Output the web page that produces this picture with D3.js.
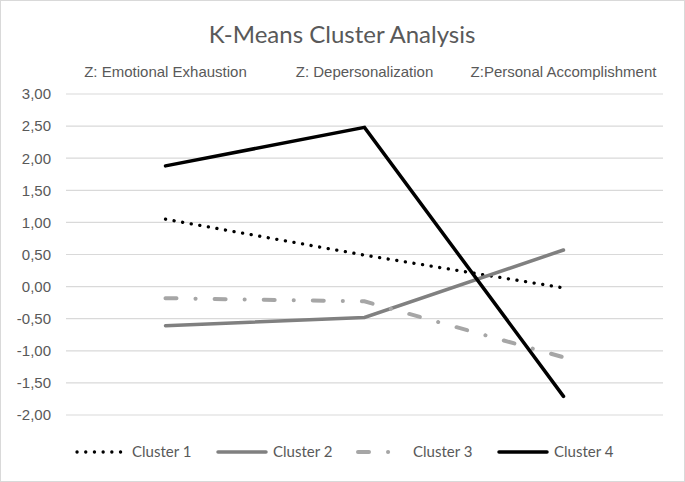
<!DOCTYPE html>
<html>
<head>
<meta charset="utf-8">
<script src="https://cdn.jsdelivr.net/npm/d3@7"></script>
<style>
  body { margin: 0; background: #fff; }
  svg { font-family: Lato, "Open Sans", sans-serif; }
</style>
</head>
<body>
<svg id="chart" width="685" height="482"></svg>
<script>
const categories = ['Z: Emotional Exhaustion', 'Z: Depersonalization', 'Z:Personal Accomplishment'];
const seriesNames = ['Cluster 1', 'Cluster 2', 'Cluster 3', 'Cluster 4'];
const cluster1 = [1.05, 0.49, -0.02];
const cluster2 = [-0.61, -0.48, 0.57];
const cluster3 = [-0.18, -0.23, -1.10];
const cluster4 = [1.88, 2.48, -1.71];
const yTicks = [3, 2.5, 2, 1.5, 1, 0.5, 0, -0.5, -1, -1.5, -2];

const W = 685, H = 482;
const margin = {left: 66, right: 22, top: 94, bottom: 67};

const svg = d3.select('#chart');

// outer border like the office chart frame
svg.append('rect')
    .attr('x', 0.5).attr('y', 0.5)
    .attr('width', W - 1).attr('height', H - 1)
    .attr('fill', '#fff').attr('stroke', '#d9d9d9');

let x = d3.scaleBand()
    .domain(categories)
    .range([margin.left, W - margin.right]);
let y = d3.scaleLinear()
    .domain([-2, 3])
    .range([H - margin.bottom, margin.top]);

// gridlines
svg.append('g')
    .selectAll('line')
    .data(yTicks)
    .enter()
    .append('line')
    .attr('x1', margin.left).attr('x2', W - margin.right)
    .attr('y1', d => y(d)).attr('y2', d => y(d))
    .attr('stroke', '#d9d9d9')
    .attr('stroke-width', 1.2);

// y axis labels, comma decimals
const fmt = d => d3.format('.2f')(d).replace('.', ',').replace('−', '-');
let yAxis = d3.axisLeft(y).tickValues(yTicks).tickFormat(fmt).tickSize(0).tickPadding(15);
let gy = svg.append('g')
    .attr('transform', `translate(${margin.left},0)`)
    .call(yAxis);
gy.select('.domain').remove();
gy.selectAll('text')
    .attr('fill', '#595959')
    .style('font-size', '15px');

// category labels on top
let xAxis = d3.axisTop(x).tickSize(0).tickPadding(0);
let gx = svg.append('g')
    .attr('transform', 'translate(0,77)')
    .call(xAxis);
gx.select('.domain').remove();
gx.selectAll('text')
    .attr('fill', '#595959')
    .style('font-size', '15px');

// title
svg.append('text')
    .attr('x', 342).attr('y', 43)
    .attr('text-anchor', 'middle')
    .attr('fill', '#595959')
    .style('font-size', '24px')
    .text('K-Means Cluster Analysis');

const styles = [
    {stroke: '#000000', width: 3.3, dash: '0.1 8.6', cap: 'round'},
    {stroke: '#808080', width: 3.5, dash: null, cap: 'round'},
    {stroke: '#a6a6a6', width: 4, dash: '11 19 0.1 19', cap: 'round'},
    {stroke: '#000000', width: 3.5, dash: null, cap: 'round'}
];
const series = [cluster1, cluster2, cluster3, cluster4].map(function(vals, i) {
    return {name: seriesNames[i], values: vals, style: styles[i]};
});

let line = d3.line()
    .x((d, i) => x(categories[i]) + x.bandwidth() / 2)
    .y(d => y(d));

svg.append('g')
    .selectAll('path')
    .data(series)
    .enter()
    .append('path')
    .attr('fill', 'none')
    .attr('stroke', s => s.style.stroke)
    .attr('stroke-width', s => s.style.width)
    .attr('stroke-dasharray', s => s.style.dash)
    .attr('stroke-linecap', s => s.style.cap)
    .attr('stroke-linejoin', 'miter')
    .attr('d', s => line(s.values));

// legend
const legendX = [77, 218, 358, 499];
const legendY = 452;
let lg = svg.append('g')
    .selectAll('g')
    .data(series)
    .enter()
    .append('g')
    .attr('transform', (s, i) => `translate(${legendX[i]},${legendY})`);
lg.append('line')
    .attr('x1', 0).attr('x2', 48)
    .attr('y1', 0).attr('y2', 0)
    .attr('stroke', s => s.style.stroke)
    .attr('stroke-width', s => s.style.width)
    .attr('stroke-dasharray', s => s.style.dash)
    .attr('stroke-linecap', s => s.style.cap);
lg.append('text')
    .attr('x', 55)
    .attr('y', 5)
    .attr('fill', '#595959')
    .style('font-size', '15px')
    .text(s => s.name);
</script>
</body>
</html>
